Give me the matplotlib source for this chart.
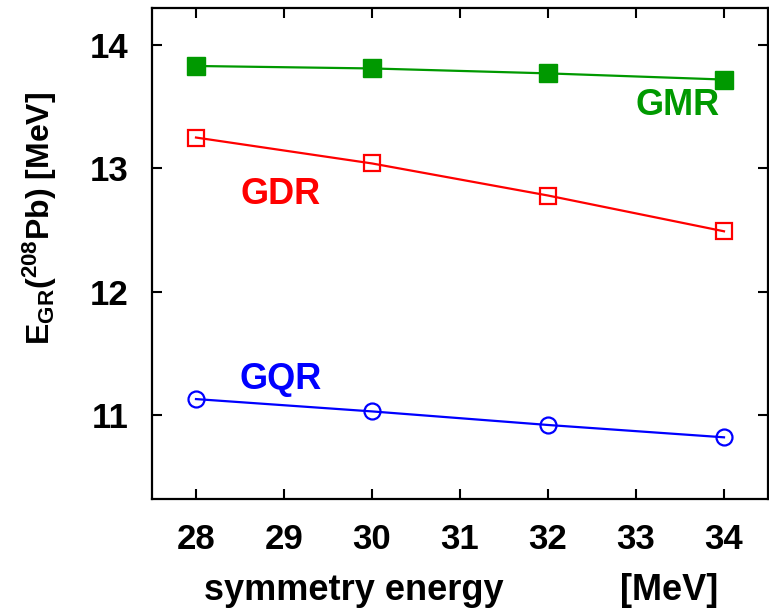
import matplotlib
matplotlib.use("Agg")
import matplotlib.pyplot as plt

# giant resonance energies of 208Pb vs. symmetry energy
sym_energy = [28, 30, 32, 34]
gmr = [13.83, 13.81, 13.77, 13.72]
gdr = [13.25, 13.04, 12.78, 12.49]
gqr = [11.13, 11.03, 10.92, 10.82]

xticks = [28, 29, 30, 31, 32, 33, 34]
yticks = [11, 12, 13, 14]

plt.rcParams['font.family'] = ['Liberation Sans', 'DejaVu Sans']
plt.rcParams['font.weight'] = 'bold'
plt.rcParams['mathtext.fontset'] = 'custom'
plt.rcParams['mathtext.rm'] = 'Liberation Sans:bold'
plt.rcParams['mathtext.default'] = 'rm'

W, H = 769, 613
fig = plt.figure(figsize=(W / 100, H / 100), dpi=100)
ax = fig.add_axes([152 / W, (H - 499) / H, (768 - 152) / W, (499 - 8) / H])

green, red, blue = '#009900', '#ff0000', '#0000ff'

ax.plot(sym_energy, gmr, '-s', color=green, lw=1.6, ms=12.5,
        mfc=green, mec=green)
ax.plot(sym_energy, gdr, '-s', color=red, lw=1.6, ms=11,
        mfc='none', mec=red, mew=1.6)
ax.plot(sym_energy, gqr, '-o', color=blue, lw=1.6, ms=11.5,
        mfc='none', mec=blue, mew=1.6)

ax.text(33.47, 13.51, 'GMR', color=green, fontsize=26, fontweight='bold',
        ha='center', va='center')
ax.text(28.96, 12.79, 'GDR', color=red, fontsize=26, fontweight='bold',
        ha='center', va='center')
ax.text(28.96, 11.29, 'GQR', color=blue, fontsize=26, fontweight='bold',
        ha='center', va='center')

ax.set_xlim(27.5, 34.5)
ax.set_ylim(10.32, 14.3)
ax.set_xticks(xticks)
ax.set_yticks(yticks)
ax.tick_params(direction='in', top=True, right=True, length=7, width=1.5,
               labelsize=25)
ax.tick_params(axis='x', pad=17)
ax.tick_params(axis='y', pad=17)
for s in ax.spines.values():
    s.set_linewidth(1.6)

fig.text(204 / W, 1 - 600 / H, 'symmetry energy', fontsize=26,
         fontweight='bold', ha='left', va='baseline')
fig.text(620 / W, 1 - 600 / H, '[MeV]', fontsize=26,
         fontweight='bold', ha='left', va='baseline')
fig.text(40 / W, 1 - 218 / H, r'E$_{GR}$($^{208}$Pb) [MeV]', fontsize=23,
         fontweight='bold', rotation=90, ha='center', va='center')

fig.savefig('out.png', dpi=100)
